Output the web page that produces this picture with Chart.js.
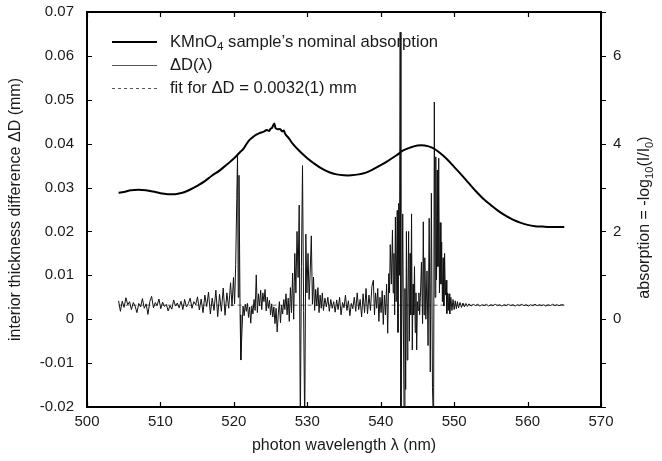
<!DOCTYPE html>
<html>
<head>
<meta charset="utf-8">
<script src="https://cdn.jsdelivr.net/npm/chart.js@4.4.1/dist/chart.umd.min.js"></script>
<style>
html,body{margin:0;padding:0;background:#fff;}
#wrap{width:662px;height:461px;}
</style>
</head>
<body>
<div id="wrap"><canvas id="c" width="662" height="461"></canvas></div>
<script>
// Absorption curve (right axis): wavelength (nm) and absorbance
const absWave  = [504.3,505,506,507,508,509,510,511,512,513,514,515,516,517,518,519,520,520.8,521.3,522,522.6,523,523.5,524,524.5,524.8,525,525.2,525.5,525.7,526,526.3,526.6,526.8,527,527.5,528,529,530,531,532,533,534,535,536,537,538,539,540,541,542,542.6,543,544,545,546,547,548,549,550,551,552,553,554,555,556,557,558,559,560,561,562,563,564,565];
const absValue = [2.88,2.90,2.94,2.95,2.94,2.91,2.87,2.85,2.85,2.88,2.95,3.04,3.14,3.27,3.38,3.52,3.66,3.80,3.88,4.06,4.15,4.20,4.24,4.27,4.31,4.29,4.34,4.36,4.46,4.35,4.33,4.33,4.28,4.30,4.22,4.12,4.00,3.82,3.67,3.54,3.43,3.35,3.30,3.28,3.28,3.30,3.34,3.42,3.51,3.61,3.72,3.79,3.84,3.91,3.96,3.96,3.91,3.80,3.65,3.47,3.29,3.10,2.91,2.74,2.60,2.47,2.36,2.27,2.20,2.15,2.12,2.11,2.10,2.10,2.10];

// Interior thickness difference ΔD(λ) in mm: [wavelength, value]
const deltaD = [
[504.30,0.0042],[504.55,0.0018],[504.80,0.0041],[505.05,0.0027],[505.30,0.0049],[505.55,0.0033],[505.80,0.0040],[506.05,0.0022],
[506.30,0.0038],[506.55,0.0030],[506.80,0.0015],[507.05,0.0036],[507.30,0.0028],[507.55,0.0047],[507.80,0.0025],[508.05,0.0035],
[508.30,0.0011],[508.55,0.0040],[508.80,0.0052],[509.05,0.0026],[509.30,0.0038],[509.55,0.0031],[509.80,0.0046],[510.05,0.0024],
[510.30,0.0039],[510.55,0.0029],[510.80,0.0034],[511.05,0.0019],[511.30,0.0031],[511.55,0.0023],[511.80,0.0044],[512.05,0.0030],
[512.30,0.0037],[512.55,0.0026],[512.80,0.0041],[513.05,0.0022],[513.30,0.0045],[513.55,0.0028],[513.80,0.0036],[514.05,0.0048],
[514.30,0.0025],[514.55,0.0040],[514.80,0.0033],[515.05,0.0051],[515.30,0.0021],[515.55,0.0046],[515.80,0.0015],[516.05,0.0055],
[516.30,0.0029],[516.55,0.0062],[516.80,0.0012],[517.05,0.0048],[517.30,0.0020],[517.55,0.0066],[517.80,0.0006],[518.05,0.0057],
[518.30,0.0018],[518.55,0.0071],[518.80,0.0009],[519.05,0.0060],[519.30,0.0025],[519.55,0.0083],[519.75,0.0030],[519.95,0.0095],
[520.10,0.0035],[520.25,0.0125],[520.40,0.0275],[520.50,0.0374],[520.60,0.0050],[520.70,0.0328],[520.85,0.0010],[520.95,-0.0093],
[521.10,-0.0029],[521.25,0.0030],[521.40,0.0008],[521.55,0.0034],[521.70,0.0018],[521.85,0.0036],[522.00,0.0004],[522.15,0.0028],
[522.30,-0.0009],[522.45,0.0030],[522.60,0.0012],[522.75,0.0045],[522.90,0.0020],[523.05,0.0101],[523.20,0.0015],[523.35,0.0058],
[523.50,0.0030],[523.65,0.0066],[523.80,0.0022],[523.95,0.0060],[524.10,0.0040],[524.25,0.0068],[524.40,0.0019],[524.55,0.0050],
[524.70,0.0025],[524.85,0.0043],[525.00,0.0010],[525.15,0.0035],[525.30,0.0005],[525.45,0.0028],[525.60,-0.0010],[525.75,0.0025],
[525.90,-0.0029],[526.05,0.0012],[526.20,0.0040],[526.35,-0.0008],[526.50,0.0032],[526.65,0.0012],[526.80,0.0045],[526.95,0.0022],
[527.10,0.0058],[527.25,0.0010],[527.40,0.0048],[527.55,-0.0005],[527.70,0.0072],[527.85,0.0015],[528.00,0.0105],[528.15,0.0000],
[528.30,0.0150],[528.45,0.0060],[528.60,0.0200],[528.75,0.0095],[528.90,0.0260],[529.05,-0.0250],[529.20,0.0120],[529.35,0.0350],
[529.50,0.0020],[529.65,-0.0250],[529.80,0.0194],[529.95,0.0060],[530.10,0.0150],[530.25,0.0045],[530.40,0.0110],[530.55,0.0190],
[530.70,0.0034],[530.85,0.0096],[531.00,0.0020],[531.15,0.0068],[531.30,0.0030],[531.45,0.0072],[531.60,0.0015],[531.75,0.0055],
[531.90,0.0025],[532.05,0.0060],[532.20,0.0020],[532.40,0.0048],[532.60,0.0028],[532.80,0.0050],[533.00,0.0018],[533.20,0.0045],
[533.40,0.0025],[533.60,0.0040],[533.80,0.0016],[534.00,0.0044],[534.20,0.0022],[534.40,0.0050],[534.60,0.0010],[534.80,0.0038],
[535.00,0.0026],[535.20,0.0055],[535.40,0.0020],[535.60,0.0042],[535.80,0.0008],[536.00,0.0036],[536.20,0.0024],[536.40,0.0050],
[536.60,0.0018],[536.80,0.0060],[537.00,0.0022],[537.20,0.0045],[537.40,0.0005],[537.60,0.0058],[537.80,0.0015],[538.00,0.0070],
[538.20,0.0012],[538.40,0.0055],[538.60,0.0020],[538.80,0.0075],[539.00,0.0089],[539.15,0.0010],[539.30,0.0060],[539.45,0.0025],
[539.60,0.0070],[539.75,-0.0005],[539.90,0.0050],[540.05,0.0015],[540.20,0.0065],[540.35,-0.0012],[540.50,0.0055],[540.65,0.0010],
[540.80,0.0080],[540.95,-0.0032],[541.10,0.0104],[541.20,0.0060],[541.30,0.0170],[541.45,0.0080],[541.60,0.0203],[541.70,0.0060],
[541.80,0.0150],[541.90,0.0010],[542.00,0.0233],[542.10,0.0040],[542.25,0.0248],[542.35,-0.0030],[542.45,0.0264],[542.55,0.0100],
[542.65,0.0654],[542.75,-0.0250],[542.85,-0.0025],[543.00,0.0240],[543.10,-0.0045],[543.20,-0.0250],[543.30,0.0070],[543.40,-0.0160],
[543.50,0.0200],[543.60,-0.0093],[543.70,0.0040],[543.80,0.0200],[543.90,-0.0050],[544.00,0.0150],[544.10,0.0010],[544.20,0.0240],
[544.30,-0.0070],[544.40,0.0080],[544.50,0.0010],[544.60,0.0120],[544.70,-0.0030],[544.80,0.0060],[544.90,-0.0070],[545.00,0.0040],
[545.10,0.0020],[545.20,0.0060],[545.30,0.0010],[545.40,0.0050],[545.55,0.0130],[545.70,-0.0010],[545.80,0.0222],[545.90,0.0010],
[546.00,0.0140],[546.15,0.0000],[546.30,0.0110],[546.45,-0.0060],[546.60,0.0230],[546.75,-0.0120],[546.90,0.0287],[547.05,-0.0155],
[547.20,-0.0250],[547.30,0.0495],[547.40,0.0050],[547.50,0.0370],[547.60,0.0090],[547.70,0.0340],[547.80,0.0120],[547.90,0.0367],
[548.00,0.0060],[548.10,0.0220],[548.20,0.0080],[548.30,0.0176],[548.40,0.0040],[548.50,0.0140],[548.60,0.0030],[548.70,0.0150],
[548.80,0.0055],[548.90,0.0089],[549.00,0.0013],[549.10,0.0060],[549.20,0.0020],[549.30,0.0058],[549.40,0.0012],[549.55,0.0050],
[549.70,0.0020],[549.85,0.0045],[550.00,0.0022],[550.15,0.0042],[550.30,0.0024],[550.45,0.0040],[550.60,0.0026],[550.80,0.0038],
[551.00,0.0027],[551.20,0.0037],[551.40,0.0028],[551.60,0.0036],[551.80,0.0029],[552.00,0.0035],[552.30,0.0030],[552.60,0.0034],
[552.90,0.0031],[553.20,0.0034],[553.50,0.0030],[553.80,0.0033],[554.10,0.0031],[554.40,0.0034],[554.70,0.0030],[555.00,0.0033],
[555.30,0.0031],[555.60,0.0034],[555.90,0.0031],[556.20,0.0033],[556.50,0.0030],[556.80,0.0033],[557.10,0.0031],[557.40,0.0034],
[557.70,0.0031],[558.00,0.0033],[558.30,0.0030],[558.60,0.0033],[558.90,0.0031],[559.20,0.0034],[559.50,0.0031],[559.80,0.0033],
[560.10,0.0030],[560.40,0.0033],[560.70,0.0031],[561.00,0.0034],[561.30,0.0031],[561.60,0.0033],[561.90,0.0031],[562.20,0.0033],
[562.50,0.0030],[562.80,0.0033],[563.10,0.0031],[563.40,0.0034],[563.70,0.0031],[564.00,0.0033],[564.30,0.0031],[564.60,0.0033],
[565.00,0.0032]
];

// Fit: constant ΔD
const fitValue = 0.0032;
const fitRange = [504.3, 565.0];

// Axis ticks
const xTicks  = [500,510,520,530,540,550,560,570];
const yTicks  = [-0.02,-0.01,0,0.01,0.02,0.03,0.04,0.05,0.06,0.07];
const y2Ticks = [-2,-1,0,1,2,3,4,5,6,7];
const y2Labels = [0,2,4,6];

const FONT = 'Liberation Sans, Arial, Helvetica, sans-serif';
const TXT = '#1a1a1a';

function drawRich(ctx, x, y, parts, size) {
  let cx = x;
  for (const [t, sub] of parts) {
    if (sub) {
      ctx.font = (size*0.7).toFixed(1) + 'px ' + FONT;
      ctx.fillText(t, cx, y + size*0.3);
    } else {
      ctx.font = size + 'px ' + FONT;
      ctx.fillText(t, cx, y);
    }
    cx += ctx.measureText(t).width;
  }
  return cx - x;
}
function richWidth(ctx, parts, size) {
  let w = 0;
  for (const [t, sub] of parts) {
    ctx.font = (sub ? (size*0.7).toFixed(1) : size) + 'px ' + FONT;
    w += ctx.measureText(t).width;
  }
  return w;
}

const framePlugin = {
  id: 'frame',
  afterDraw(chart) {
    const {ctx, chartArea: a, scales} = chart;
    ctx.save();
    ctx.strokeStyle = '#000';
    ctx.lineWidth = 1.2;
    const tl = 5;
    ctx.beginPath();
    for (const v of xTicks) {
      const px = Math.round(scales.x.getPixelForValue(v)) + 0.5;
      ctx.moveTo(px, a.bottom); ctx.lineTo(px, a.bottom - tl);
      ctx.moveTo(px, a.top); ctx.lineTo(px, a.top + tl);
    }
    for (const v of yTicks) {
      const py = Math.round(scales.y.getPixelForValue(v)) + 0.5;
      ctx.moveTo(a.left, py); ctx.lineTo(a.left + tl, py);
    }
    for (const v of y2Ticks) {
      const py = Math.round(scales.y2.getPixelForValue(v)) + 0.5;
      ctx.moveTo(a.right, py); ctx.lineTo(a.right + tl, py);
    }
    ctx.stroke();
    ctx.lineWidth = 2;
    ctx.strokeRect(a.left, a.top, a.right - a.left, a.bottom - a.top);

    // Right axis title (reads bottom-to-top)
    ctx.fillStyle = TXT;
    ctx.textBaseline = 'middle';
    ctx.textAlign = 'left';
    const rparts = [['absorption = -log', false], ['10', true], ['(I/I', false], ['0', true], [')', false]];
    const rs = 16;
    const rw = richWidth(ctx, rparts, rs);
    ctx.translate(645, (a.top + a.bottom) / 2 + 8);
    ctx.rotate(-Math.PI / 2);
    drawRich(ctx, -rw / 2, 0, rparts, rs);
    ctx.restore();

    // Legend
    ctx.save();
    ctx.textBaseline = 'middle';
    ctx.textAlign = 'left';
    ctx.fillStyle = TXT;
    const lx0 = 112, lx1 = 157, tx = 170, rows = [42, 65, 88];
    const ls = 16.6;
    ctx.strokeStyle = '#000'; ctx.lineWidth = 2; ctx.setLineDash([]);
    ctx.beginPath(); ctx.moveTo(lx0, rows[0]); ctx.lineTo(lx1, rows[0]); ctx.stroke();
    drawRich(ctx, tx, rows[0], [['KMnO', false], ['4', true], [' sample\u2019s nominal absorption', false]], ls);
    ctx.strokeStyle = '#555'; ctx.lineWidth = 1;
    ctx.beginPath(); ctx.moveTo(lx0, rows[1] + 0.5); ctx.lineTo(lx1, rows[1] + 0.5); ctx.stroke();
    drawRich(ctx, tx, rows[1], [['\u0394D(\u03bb)', false]], ls);
    ctx.strokeStyle = '#555'; ctx.setLineDash([3, 3]);
    ctx.beginPath(); ctx.moveTo(lx0, rows[2] + 0.5); ctx.lineTo(lx1, rows[2] + 0.5); ctx.stroke();
    ctx.setLineDash([]);
    drawRich(ctx, tx, rows[2], [['fit for \u0394D = 0.0032(1) mm', false]], ls);
    ctx.restore();
  }
};

function noPad(s) { s.paddingTop = 0; s.paddingBottom = 0; }

new Chart(document.getElementById('c'), {
  type: 'line',
  data: {
    datasets: [
      {
        label: 'KMnO4 sample\u2019s nominal absorption',
        data: absWave.map((x, i) => ({x, y: absValue[i]})),
        yAxisID: 'y2',
        borderColor: '#000',
        borderWidth: 2,
        pointRadius: 0,
        tension: 0.35
      },
      {
        label: '\u0394D(\u03bb)',
        data: deltaD.map(p => ({x: p[0], y: p[1]})),
        yAxisID: 'y',
        borderColor: '#111',
        borderWidth: 1,
        pointRadius: 0,
        tension: 0
      },
      {
        label: 'fit',
        data: fitRange.map(x => ({x, y: fitValue})),
        yAxisID: 'y',
        borderColor: '#666',
        borderWidth: 1,
        borderDash: [4, 3],
        pointRadius: 0
      }
    ]
  },
  options: {
    responsive: false,
    animation: false,
    events: [],
    layout: {padding: {top: 12, left: 0, right: 0, bottom: 0}},
    plugins: {legend: {display: false}, tooltip: {enabled: false}},
    scales: {
      x: {
        type: 'linear', min: 500, max: 570,
        afterBuildTicks(s) { s.ticks = xTicks.map(v => ({value: v})); },
        ticks: {font: {size: 15, family: FONT}, color: TXT, padding: 6, maxRotation: 0, autoSkip: false},
        grid: {display: false, drawTicks: false},
        border: {display: false},
        title: {display: true, text: 'photon wavelength \u03bb (nm)', font: {size: 16, family: FONT}, color: TXT, padding: {top: 4, bottom: 6}},
        afterFit(s) { s.height = 54; s.paddingLeft = 0; s.paddingRight = 0; }
      },
      y: {
        position: 'left', min: -0.02, max: 0.07,
        afterBuildTicks(s) { s.ticks = yTicks.map(v => ({value: v})); },
        ticks: {font: {size: 15, family: FONT}, color: TXT, padding: 13, autoSkip: false,
          callback: v => Math.abs(v) < 1e-9 ? '0' : v.toFixed(2)},
        grid: {display: false, drawTicks: false},
        border: {display: false},
        title: {display: true, text: 'interior thickness difference \u0394D (mm)', font: {size: 16, family: FONT}, color: TXT, padding: {top: 6, bottom: 4}},
        afterFit(s) { s.width = 87; noPad(s); }
      },
      y2: {
        position: 'right', min: -2, max: 7,
        afterBuildTicks(s) { s.ticks = y2Ticks.map(v => ({value: v})); },
        ticks: {font: {size: 15, family: FONT}, color: TXT, padding: 12, autoSkip: false,
          callback: v => y2Labels.includes(v) ? String(v) : ''},
        grid: {display: false, drawTicks: false},
        border: {display: false},
        afterFit(s) { s.width = 61; noPad(s); }
      }
    }
  },
  plugins: [framePlugin]
});
</script>
</body>
</html>
